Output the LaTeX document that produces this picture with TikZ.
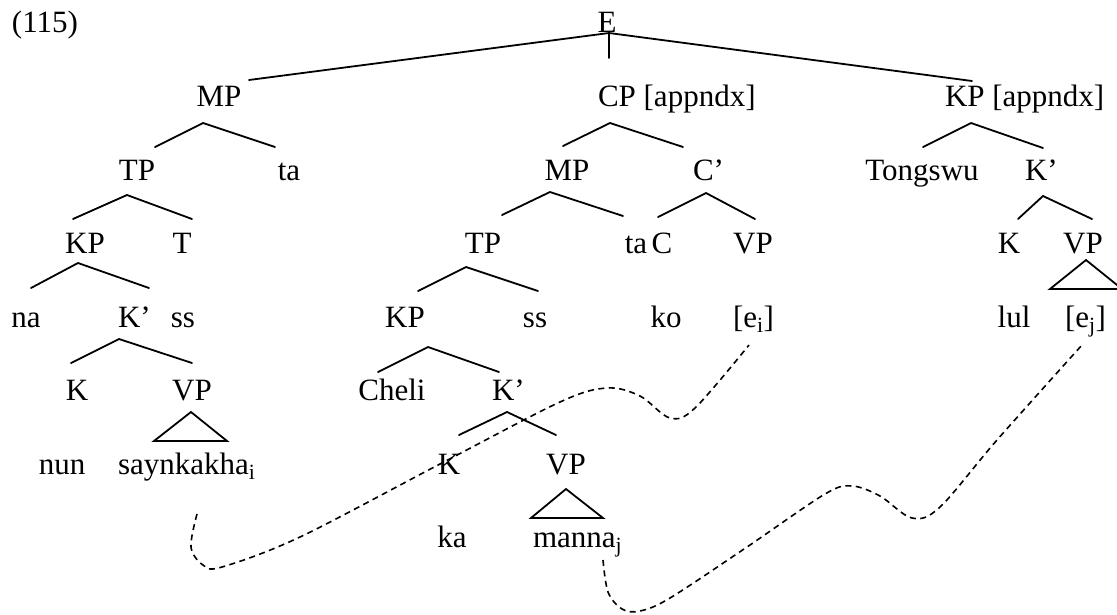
\documentclass[tikz,border=0pt]{standalone}
\usepackage{fontspec}
\setmainfont{Liberation Serif}
\begin{document}
\begin{tikzpicture}[x=1pt,y=-1pt,
  every node/.style={font=\fontsize{31}{36}\selectfont, inner sep=0pt, outer sep=0pt},
  lbl/.style={anchor=base},
  lblw/.style={anchor=base west},
  branch/.style={line width=1.8pt, line cap=round},
  link/.style={line width=1.6pt, dash pattern=on 6pt off 4.5pt}]
\useasboundingbox (0,0) rectangle (1117,614);

% labels
\node[lblw] (ex) at (12,32) {(115)};
\node[lbl] (E) at (607,32) {E};
\node[lbl] (MP1) at (219,106) {MP};
\node[lblw] (CP) at (598,106) {CP [appndx]};
\node[lblw] (KPa) at (945,106) {KP [appndx]};
\node[lbl] (TP1) at (137,180) {TP};
\node[lbl] (ta1) at (289,180) {ta};
\node[lbl] (MP2) at (567,180) {MP};
\node[lblw] (Cbar) at (693,180) {C’};
\node[lbl] (Tong) at (922,180) {Tongswu};
\node[lblw] (Kbar3) at (1025,180) {K’};
\node[lbl] (KP1) at (85,253) {KP};
\node[lbl] (T1) at (182,253) {T};
\node[lbl] (TP2) at (483,253) {TP};
\node[lbl] (ta2) at (636,253) {ta};
\node[lbl] (C) at (662,253) {C};
\node[lbl] (VP2) at (753,253) {VP};
\node[lbl] (K3) at (1009,253) {K};
\node[lbl] (VP3) at (1083,253) {VP};
\node[lbl] (na) at (26,327) {na};
\node[lblw] (Kbar1) at (118,327) {K’};
\node[lbl] (ss1) at (183,327) {ss};
\node[lbl] (KP2) at (405,327) {KP};
\node[lbl] (ss2) at (535,327) {ss};
\node[lbl] (ko) at (666,327) {ko};
\node[lblw] (ei) at (733,327) {[e\textsubscript{i}]};
\node[lbl] (lul) at (1014,327) {lul};
\node[lblw] (ej) at (1065,327) {[e\textsubscript{j}]};
\node[lbl] (K1) at (77,400) {K};
\node[lbl] (VP1) at (192,400) {VP};
\node[lbl] (Cheli) at (392,400) {Cheli};
\node[lblw] (Kbar2) at (492,400) {K’};
\node[lbl] (nun) at (62,474) {nun};
\node[lblw] (sayng) at (118,474) {saynkakha\textsubscript{i}};
\node[lbl] (K2) at (449,474) {K};
\node[lbl] (VP4) at (566,474) {VP};
\node[lbl] (ka) at (452,547) {ka};
\node[lblw] (manna) at (533,547) {manna\textsubscript{j}};

% branch points
\coordinate (eT) at (609,33);
\coordinate (eL) at (249,80);
\coordinate (eM) at (609,58);
\coordinate (eR) at (972,81);
\coordinate (a1) at (203,123); \coordinate (a1l) at (155,147); \coordinate (a1r) at (275,147);
\coordinate (a2) at (610,123); \coordinate (a2l) at (563,146); \coordinate (a2r) at (683,147);
\coordinate (a3) at (971,123); \coordinate (a3l) at (923,147); \coordinate (a3r) at (1043,148);
\coordinate (a4) at (127,195); \coordinate (a4l) at (73,219); \coordinate (a4r) at (192,219);
\coordinate (a5) at (550,192); \coordinate (a5l) at (502,215); \coordinate (a5r) at (623,216);
\coordinate (a6) at (706,193); \coordinate (a6l) at (658,217); \coordinate (a6r) at (755,219);
\coordinate (a7) at (1043,196); \coordinate (a7l) at (1018,219); \coordinate (a7r) at (1092,219);
\coordinate (a8) at (78,263); \coordinate (a8l) at (31,288); \coordinate (a8r) at (149,288);
\coordinate (a9) at (466,267); \coordinate (a9l) at (418,291); \coordinate (a9r) at (538,291);
\coordinate (a10) at (119,339); \coordinate (a10l) at (71,363); \coordinate (a10r) at (192,363);
\coordinate (a11) at (428,347); \coordinate (a11l) at (378,372); \coordinate (a11r) at (499,372);
\coordinate (a12) at (507,412); \coordinate (a12l) at (459,435); \coordinate (a12r) at (556,435);

\draw[branch] (eL) -- (eT) -- (eR);
\draw[branch] (eT) -- (eM);
\foreach \n in {1,...,12}{
  \draw[branch] (a\n l) -- (a\n) -- (a\n r);
}

% triangles
\coordinate (t1) at (191,412); \coordinate (t1l) at (154,441); \coordinate (t1r) at (227,441);
\coordinate (t2) at (566,489); \coordinate (t2l) at (531,518); \coordinate (t2r) at (603,518);
\coordinate (t3) at (1086,260); \coordinate (t3l) at (1050,289); \coordinate (t3r) at (1122,289);
\draw[branch, line join=miter] (t1) -- (t1l) -- (t1r) -- cycle;
\draw[branch, line join=miter] (t2) -- (t2l) -- (t2r) -- cycle;
\draw[branch, line join=miter] (t3) -- (t3l) -- (t3r) -- cycle;

% dashed links
\coordinate (i1) at (197,514);
\coordinate (i2) at (749,345);
\coordinate (j1) at (603,560);
\coordinate (j2) at (1082,345);
\draw[link] plot[smooth, tension=0.55] coordinates {(i1) (191,547) (203,565) (222,567) (300,537) (440,464) (560,402) (607,388) (640,396) (670,418) (695,408) (749,345)};
\draw[link] plot[smooth, tension=0.55] coordinates {(j1) (608,592) (622,609) (640,611) (670,598) (747,547) (825,494) (852,486) (880,496) (912,518) (940,507) (997,440) (1082,345)};
\end{tikzpicture}
\end{document}
